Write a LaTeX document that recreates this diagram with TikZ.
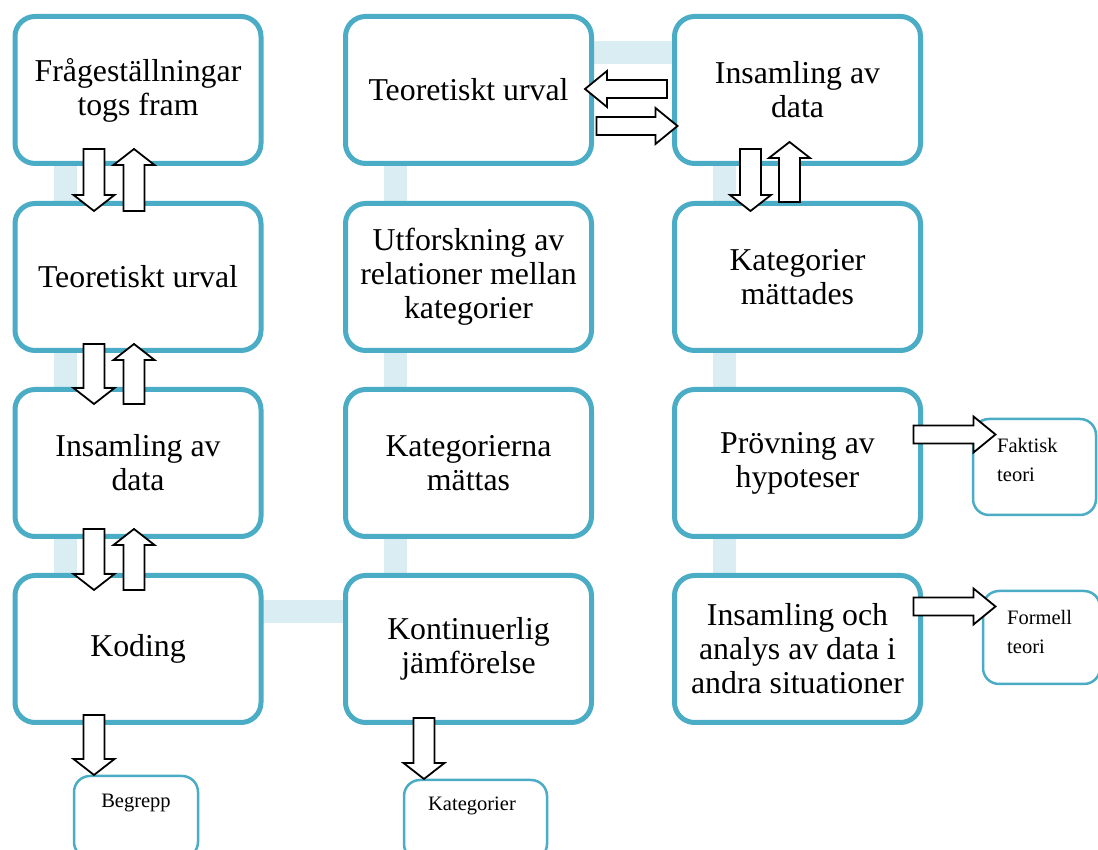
\documentclass[tikz,border=0pt]{standalone}
\usepackage{fontspec}
\setmainfont{Liberation Serif}
\usetikzlibrary{backgrounds}
\definecolor{ramblue}{RGB}{75,172,198}
\definecolor{stigblue}{RGB}{218,237,243}

\begin{document}
\begin{tikzpicture}[x=1pt,y=1pt,
  ruta/.style={draw=ramblue,line width=5,fill=white,rounded corners=20,outer sep=0,
    minimum width=246,minimum height=147,align=center,font=\fontsize{31.8}{34}\selectfont},
  liten/.style={draw=ramblue,line width=2.5,fill=white,rounded corners=16,outer sep=0},
  litentext/.style={font=\fontsize{20.5}{29}\selectfont,inner sep=0},
  stig/.style={draw=stigblue,line width=23},
  pilkant/.style={draw=black,fill=white,line width=1.8,line join=miter},
  pilv/.pic={\draw[pilkant] (0,-10.5) -- (#1-16,-10.5) -- (#1-16,-20.5) -- (#1,0)
    -- (#1-16,20.5) -- (#1-16,10.5) -- (0,10.5) -- cycle;},
  pilh/.pic={\draw[pilkant] (0,-9) -- (#1-22,-9) -- (#1-22,-18) -- (#1,0)
    -- (#1-22,18) -- (#1-22,9) -- (0,9) -- cycle;}]
  \useasboundingbox (0,0) rectangle (1098,850);

  \node[ruta] (fragor) at (138,760) {Frågeställningar\\togs fram};
  \node[ruta] (urval1) at (138,573) {Teoretiskt urval};
  \node[ruta] (insamling1) at (138,387) {Insamling av\\data};
  \node[ruta] (koding) at (138,201) {Koding};

  \node[ruta] (urval2) at (468.5,760) {Teoretiskt urval};
  \node[ruta] (utforsk) at (468.5,573) {Utforskning av\\relationer mellan\\kategorier};
  \node[ruta] (mattas) at (468.5,387) {Kategorierna\\mättas};
  \node[ruta] (kontin) at (468.5,201) {Kontinuerlig\\jämförelse};

  \node[ruta] (insamling2) at (797.5,760) {Insamling av\\data};
  \node[ruta] (mattades) at (797.5,573) {Kategorier\\mättades};
  \node[ruta] (provning) at (797.5,387) {Prövning av\\hypoteser};
  \node[ruta] (analys) at (797.5,201) {Insamling och\\analys av data i\\andra situationer};

  \begin{scope}[on background layer]
    \draw[stig] ([xshift=50]fragor.west) |- ([xshift=50,yshift=-36]kontin.north west)
      |- ([xshift=50,yshift=-36]insamling2.north west) -- ([xshift=50]analys.west);
  \end{scope}

  \node[liten,minimum width=124,minimum height=82] (begrepp) at (136,33) {};
  \node[litentext] (tbegrepp) at ([yshift=-27]begrepp.north) {Begrepp};
  \node[liten,minimum width=143,minimum height=80] (kategorier) at (475.5,30) {};
  \node[litentext] (tkategorier) at ([xshift=-3.5,yshift=-25.5]kategorier.north) {Kategorier};
  \node[liten,minimum width=123,minimum height=96] (faktisk) at (1034.5,383) {};
  \node[litentext,align=left,anchor=west] (tfaktisk) at ([xshift=24,yshift=-40.5]faktisk.north west) {Faktisk\\teori};
  \node[liten,minimum width=117,minimum height=93] (formell) at (1041.5,212.5) {};
  \node[litentext,align=left,anchor=west] (tformell) at ([xshift=24,yshift=-41]formell.north west) {Formell\\teori};

  \pic[rotate=-90] at ([xshift=-44,yshift=14.5]fragor.south) {pilv=62};
  \pic[rotate=90] at ([xshift=-4,yshift=-7.5]urval1.north) {pilv=62};
  \pic[rotate=-90] at ([xshift=-44,yshift=6.5]urval1.south) {pilv=60};
  \pic[rotate=90] at ([xshift=-4,yshift=-14.5]insamling1.north) {pilv=60};
  \pic[rotate=-90] at ([xshift=-44,yshift=7.5]insamling1.south) {pilv=61};
  \pic[rotate=90] at ([xshift=-4,yshift=-14.5]koding.north) {pilv=61};
  \pic[rotate=-90] at ([xshift=-44,yshift=7.5]koding.south) {pilv=60};
  \pic[rotate=-90] at ([xshift=-44.5,yshift=4.5]kontin.south) {pilv=61};
  \pic[rotate=-90] at ([xshift=-47,yshift=14.5]insamling2.south) {pilv=62};
  \pic[rotate=90] at ([xshift=-8,yshift=1.5]mattades.north) {pilv=60};
  \pic[rotate=180] at ([xshift=-7.5,yshift=1]insamling2.west) {pilh=82};
  \pic at ([xshift=5,yshift=-36]urval2.east) {pilh=81};
  \pic at ([xshift=-7,yshift=28.5]provning.east) {pilh=82};
  \pic at ([xshift=-7,yshift=42.5]analys.east) {pilh=82};
\end{tikzpicture}
\end{document}
